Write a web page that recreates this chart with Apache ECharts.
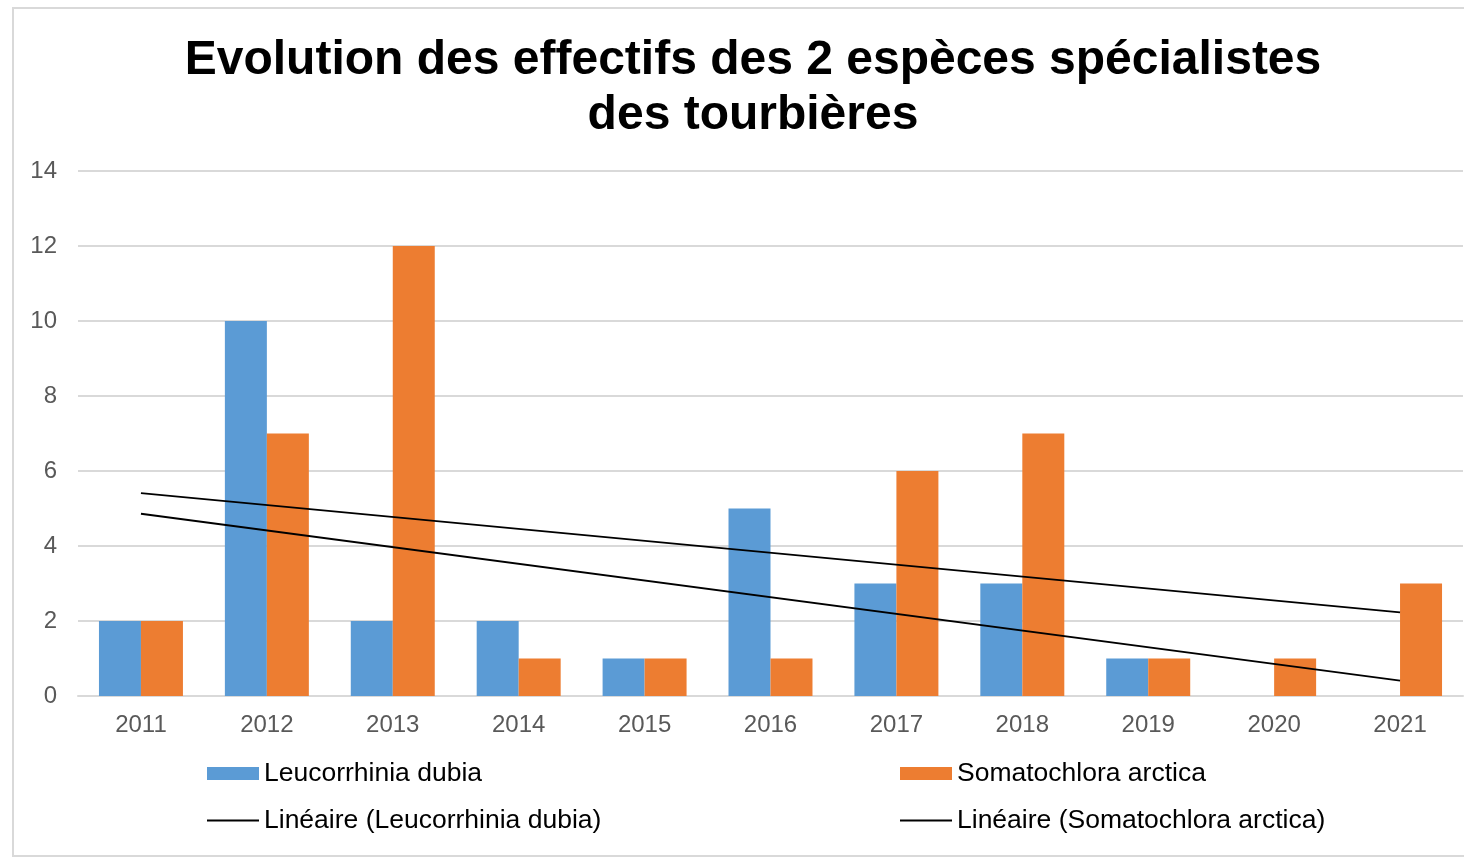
<!DOCTYPE html>
<html>
<head>
<meta charset="utf-8">
<script src="https://cdn.jsdelivr.net/npm/echarts@6/dist/echarts.min.js"></script>
<style>
  html, body { margin: 0; padding: 0; background: #fff; }
  #chart { width: 1464px; height: 858px; }
</style>
</head>
<body>
<div id="chart"></div>
<script>
// data
const years = ['2011', '2012', '2013', '2014', '2015', '2016', '2017', '2018', '2019', '2020', '2021'];
const leucorrhinia = [2, 10, 2, 2, 1, 5, 3, 3, 1, 0, 0];
const somatochlora = [2, 7, 12, 1, 1, 1, 6, 7, 1, 1, 3];
// trend line ends (2011 -> 2021)
const trendLeucorrhinia = [4.86, null, null, null, null, null, null, null, null, null, 0.41];
const trendSomatochlora = [5.41, null, null, null, null, null, null, null, null, null, 2.23];

const font = 'Arial, "Liberation Sans", sans-serif';
// thin horizontal line as legend icon (corner dots keep the 52x13 box)
const lineIcon = 'path://M0,0H0.01V0.01H0Z M0,5.6H52V7.4H0Z M51.99,12.99H52V13H51.99Z';

const chart = echarts.init(document.getElementById('chart'));

const legendBase = {
  top: 760,
  orient: 'vertical',
  padding: 0,
  itemWidth: 52,
  itemHeight: 13,
  itemGap: 20,
  itemTextGap: 6,
  textStyle: { fontFamily: font, fontSize: 26.5, color: '#000' }
};

chart.setOption({
  animation: false,
  backgroundColor: '#fff',
  title: {
    text: 'Evolution des effectifs des 2 espèces spécialistes\ndes tourbières',
    left: 748,
    top: 28,
    textAlign: 'center',
    textStyle: {
      fontFamily: font,
      fontSize: 48,
      fontWeight: 'bold',
      color: '#000',
      lineHeight: 55
    }
  },
  graphic: [{
    type: 'rect',
    shape: { x: 13, y: 8, width: 1462, height: 848 },
    style: { fill: 'none', stroke: '#d9d9d9', lineWidth: 2 },
    silent: true
  }],
  legend: [
    Object.assign({}, legendBase, {
      left: 207,
      data: [
        { name: 'Leucorrhinia dubia', icon: 'rect' },
        { name: 'Linéaire (Leucorrhinia dubia)', icon: lineIcon }
      ]
    }),
    Object.assign({}, legendBase, {
      left: 900,
      data: [
        { name: 'Somatochlora arctica', icon: 'rect' },
        { name: 'Linéaire (Somatochlora arctica)', icon: lineIcon }
      ]
    })
  ],
  grid: {
    left: 78,
    right: 1,
    top: 171,
    bottom: 162
  },
  xAxis: {
    type: 'category',
    data: years,
    axisTick: { show: false },
    axisLine: { lineStyle: { color: '#d9d9d9', width: 2 } },
    axisLabel: { fontFamily: font, fontSize: 24, color: '#595959', margin: 17 }
  },
  yAxis: {
    type: 'value',
    min: 0,
    max: 14,
    interval: 2,
    axisLine: { show: false },
    axisTick: { show: false },
    axisLabel: { fontFamily: font, fontSize: 24, color: '#595959', margin: 21 },
    splitLine: { lineStyle: { color: '#d9d9d9', width: 2 } }
  },
  series: [
    {
      name: 'Leucorrhinia dubia',
      type: 'bar',
      data: leucorrhinia,
      barGap: '0%',
      barCategoryGap: '33.3%',
      itemStyle: { color: '#5b9bd5' }
    },
    {
      name: 'Somatochlora arctica',
      type: 'bar',
      data: somatochlora,
      barGap: '0%',
      barCategoryGap: '33.3%',
      itemStyle: { color: '#ed7d31' }
    },
    {
      name: 'Linéaire (Leucorrhinia dubia)',
      type: 'line',
      data: trendLeucorrhinia,
      connectNulls: true,
      symbol: 'none',
      lineStyle: { color: '#000', width: 2 },
      itemStyle: { color: '#000' },
      z: 5
    },
    {
      name: 'Linéaire (Somatochlora arctica)',
      type: 'line',
      data: trendSomatochlora,
      connectNulls: true,
      symbol: 'none',
      lineStyle: { color: '#000', width: 2 },
      itemStyle: { color: '#000' },
      z: 5
    }
  ]
});
</script>
</body>
</html>
